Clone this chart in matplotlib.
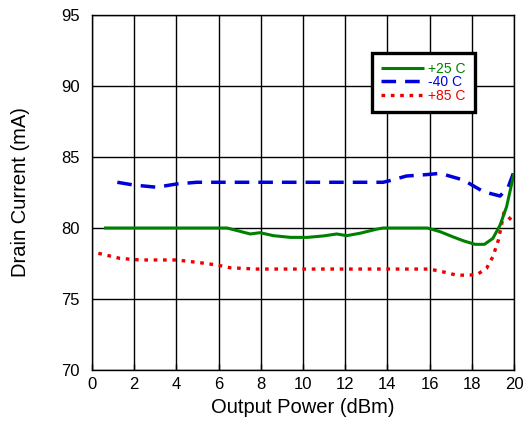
import matplotlib
matplotlib.use("Agg")
import matplotlib.pyplot as plt

plt.rcParams['font.family'] = ['Liberation Sans', 'DejaVu Sans']

# +25 C
x_25 = [0.57, 6.4, 7.5, 7.96, 8.6, 9.4, 10.2, 10.96, 11.6, 12.07, 12.7, 13.5, 13.8, 15.9,
        16.5, 17.1, 17.6, 18.15, 18.6, 19.0, 19.34, 19.65, 20.0]
y_25 = [80.0, 80.0, 79.58, 79.67, 79.46, 79.34, 79.34, 79.44, 79.58, 79.46, 79.63, 79.92, 80.0, 80.0,
        79.74, 79.38, 79.1, 78.85, 78.85, 79.27, 80.2, 81.5, 83.85]
# -40 C
x_m40 = [1.2, 1.96, 3.07, 4.0, 4.96, 13.8, 14.1, 14.9, 15.86, 16.5, 17.6, 18.55, 19.34, 19.73, 19.97]
y_m40 = [83.22, 83.03, 82.87, 83.1, 83.22, 83.22, 83.33, 83.66, 83.76, 83.85, 83.38, 82.56, 82.25, 82.9, 83.85]
# +85 C
x_85 = [0.3, 1.33, 2.27, 4.0, 5.1, 5.9, 6.54, 7.8, 16.0, 16.8, 17.3, 18.23, 18.7, 19.0, 19.26, 19.525, 19.94]
y_85 = [78.22, 77.86, 77.75, 77.75, 77.56, 77.4, 77.2, 77.11, 77.11, 76.86, 76.67, 76.7, 77.16, 77.98, 79.15, 81.08, 80.47]

x_ticks = list(range(0, 21, 2))
y_ticks = list(range(70, 96, 5))

fig = plt.figure(figsize=(5.27, 4.25), dpi=100)
ax = fig.add_axes([0.1746, 0.1294, 0.8007, 0.8353])

ax.plot(x_25, y_25, color='#008000', lw=2.2, label='+25 C', solid_capstyle='butt', zorder=5)
ax.plot(x_m40, y_m40, color='#0000dd', lw=2.5, dashes=(4.2, 2.6), label='-40 C', zorder=4)
ax.plot(x_85, y_85, color='#ee0000', lw=2.4, dashes=(1.1, 1.7), label='+85 C', zorder=3)

ax.set_xlim(0, 20)
ax.set_ylim(70, 95)
ax.set_xticks(x_ticks)
ax.set_yticks(y_ticks)
ax.grid(True, color='black', lw=1.0)
ax.set_axisbelow(True)
for s in ax.spines.values():
    s.set_color('black')
    s.set_linewidth(1.0)
ax.tick_params(axis='both', direction='in', length=4, labelsize=12, color='black', width=1)
ax.tick_params(axis='x', pad=5)
ax.tick_params(axis='y', length=0, pad=9)
ax.set_xlabel('Output Power (dBm)', fontsize=14.5, labelpad=4)
ax.set_ylabel('Drain Current (mA)', fontsize=14.5, labelpad=22)

leg = ax.legend(loc='upper left', bbox_to_anchor=(0.663, 0.893), fontsize=10, frameon=True,
                fancybox=False, edgecolor='black', framealpha=1, handlelength=3.1,
                handletextpad=0.3, borderpad=0.65, labelspacing=-0.05, borderaxespad=0)
leg.get_frame().set_linewidth(2.4)
for t, c in zip(leg.get_texts(), ['#008000', '#0000dd', '#ee0000']):
    t.set_color(c)

fig.savefig('out.png', dpi=100)
